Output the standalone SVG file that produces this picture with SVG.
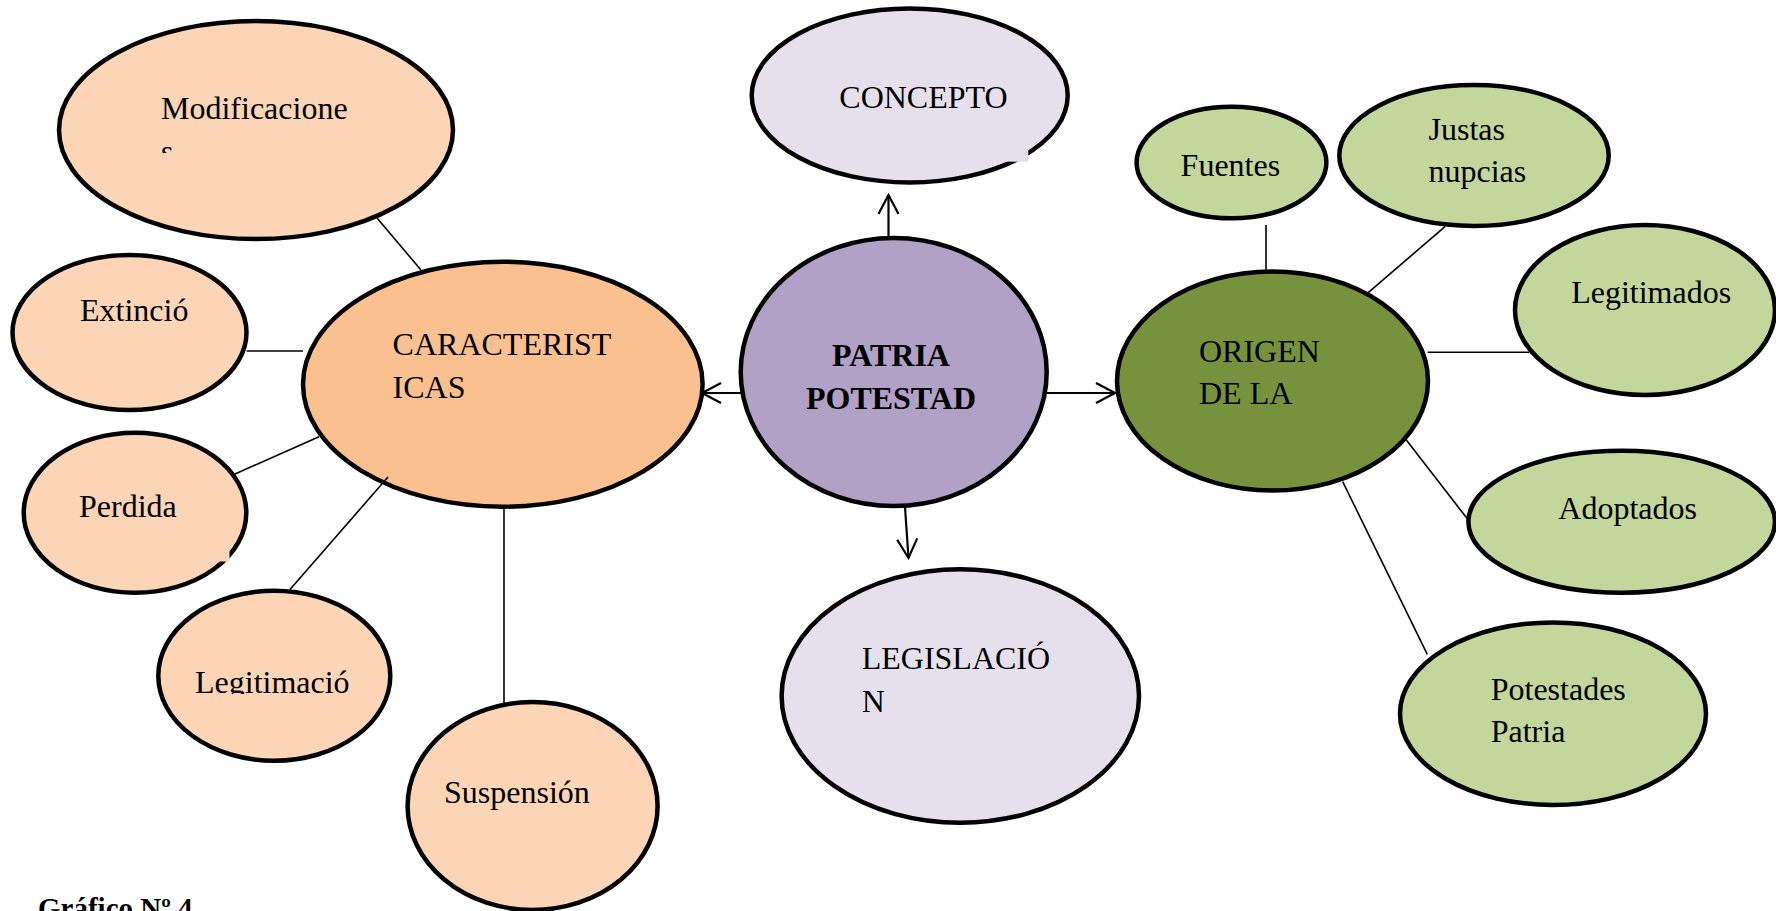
<svg xmlns="http://www.w3.org/2000/svg" width="1776" height="911" viewBox="0 0 1776 911">
<defs>
<style>
.n{stroke:#000;stroke-width:4.5}
.peach{fill:#FBD5B5}
.orange{fill:#FAC090}
.lav{fill:#E5E0EC}
.purple{fill:#B2A1C7}
.olive{fill:#76923C}
.green{fill:#C3D69B}
text{font-family:"Liberation Serif","Times New Roman",serif;font-size:32px;fill:#000}
.b{font-weight:bold}
.c{stroke:#000;stroke-width:1.6;fill:none}
.a{stroke:#000;stroke-width:2.2;fill:none;marker-end:url(#arr)}
</style>
<marker id="arr" markerUnits="userSpaceOnUse" viewBox="0 0 22 24" refX="20" refY="12" markerWidth="22" markerHeight="24" orient="auto">
<path d="M1,2 L20,12 L1,22" fill="none" stroke="#000" stroke-width="2.2"/>
</marker>
<clipPath id="clipMod"><rect x="100" y="60" width="300" height="93"/></clipPath>
<clipPath id="clipLeg"><rect x="150" y="640" width="250" height="54"/></clipPath>
</defs>
<rect width="1776" height="911" fill="#fff"/>

<g id="n-modificaciones">
<ellipse class="n peach" cx="256" cy="130" rx="197" ry="109"/>
<g clip-path="url(#clipMod)"><text x="161" y="119">Modificacione</text><text x="161" y="161.5">s</text></g>
</g>
<g id="n-extincion">
<ellipse class="n peach" cx="129.5" cy="332.5" rx="117" ry="77.5"/>
<text x="80" y="321">Extinció</text>
</g>
<g id="n-perdida">
<ellipse class="n peach" cx="135" cy="512.7" rx="111.3" ry="80"/>
<rect x="212" y="536" width="17.5" height="25.5" fill="#FBD5B5"/>
<text x="79" y="516.7">Perdida</text>
</g>
<g id="n-legitimacion">
<ellipse class="n peach" cx="274.3" cy="675.7" rx="116" ry="85"/>
<g clip-path="url(#clipLeg)"><text x="195" y="693">Legitimació</text></g>
</g>
<g id="n-suspension">
<ellipse class="n peach" cx="532.6" cy="806" rx="125" ry="104"/>
<text x="444" y="803.3">Suspensión</text>
</g>
<g id="n-caracteristicas">
<ellipse class="n orange" cx="502.8" cy="384.2" rx="199.8" ry="122.5"/>
<text x="392.6" y="355">CARACTERIST</text>
<text x="392.6" y="397.7">ICAS</text>
</g>
<g id="n-concepto">
<ellipse class="n lav" cx="909.7" cy="95.5" rx="158" ry="87"/>
<rect x="1001" y="140" width="27.3" height="21.7" fill="#E5E0EC"/>
<text x="839.3" y="108.3">CONCEPTO</text>
</g>
<g id="n-patria">
<ellipse class="n purple" cx="893.7" cy="372" rx="153" ry="134"/>
<text class="b" x="891" y="365.7" text-anchor="middle">PATRIA</text>
<text class="b" x="891" y="409" text-anchor="middle">POTESTAD</text>
</g>
<g id="n-legislacion">
<ellipse class="n lav" cx="960.3" cy="696" rx="178.7" ry="126.7"/>
<text x="861.7" y="669.3">LEGISLACIÓ</text>
<text x="861.7" y="711.7">N</text>
</g>
<g id="n-origen">
<ellipse class="n olive" cx="1272.5" cy="381" rx="155.5" ry="109.5"/>
<text x="1199" y="361.7">ORIGEN</text>
<text x="1199" y="404">DE LA</text>
</g>
<g id="n-fuentes">
<ellipse class="n green" cx="1231.5" cy="162.5" rx="94.9" ry="55.8"/>
<text x="1180.6" y="175.7">Fuentes</text>
</g>
<g id="n-justas">
<ellipse class="n green" cx="1474" cy="155.5" rx="134.7" ry="70.5"/>
<text x="1428.5" y="140">Justas</text>
<text x="1428.5" y="181.7">nupcias</text>
</g>
<g id="n-legitimados">
<ellipse class="n green" cx="1645" cy="310" rx="130" ry="85"/>
<text x="1571.2" y="302.7">Legitimados</text>
</g>
<g id="n-adoptados">
<ellipse class="n green" cx="1621.7" cy="521.7" rx="153.3" ry="71"/>
<text x="1558.3" y="519.3">Adoptados</text>
</g>
<g id="n-potestades">
<ellipse class="n green" cx="1553" cy="713.7" rx="153" ry="91.3"/>
<text x="1490.7" y="700">Potestades</text>
<text x="1490.7" y="742.3">Patria</text>
</g>

<g id="connectors">
<line class="c" x1="377" y1="218" x2="421" y2="270"/>
<line class="c" x1="246.6" y1="351" x2="303" y2="351"/>
<line class="c" x1="235" y1="474" x2="319" y2="436.7"/>
<line class="c" x1="388" y1="477" x2="290" y2="589.5"/>
<line class="c" x1="504" y1="506.7" x2="504" y2="703"/>
<line class="c" x1="1266" y1="225" x2="1266" y2="271.7"/>
<line class="c" x1="1445" y1="226.7" x2="1367.3" y2="293.3"/>
<line class="c" x1="1427.7" y1="352.3" x2="1529" y2="352.3"/>
<line class="c" x1="1404" y1="437" x2="1468.3" y2="520"/>
<line class="c" x1="1342.7" y1="481.7" x2="1427.3" y2="654.3"/>
<line class="a" x1="888.5" y1="238" x2="888.5" y2="195"/>
<line class="a" x1="741" y1="393" x2="702" y2="393"/>
<line class="a" x1="1047" y1="393" x2="1115" y2="393"/>
<line class="a" x1="905" y1="507" x2="908.5" y2="558"/>
</g>

<text class="b" x="38" y="917.5" style="font-size:29px">Gráfico Nº 4</text>
</svg>
